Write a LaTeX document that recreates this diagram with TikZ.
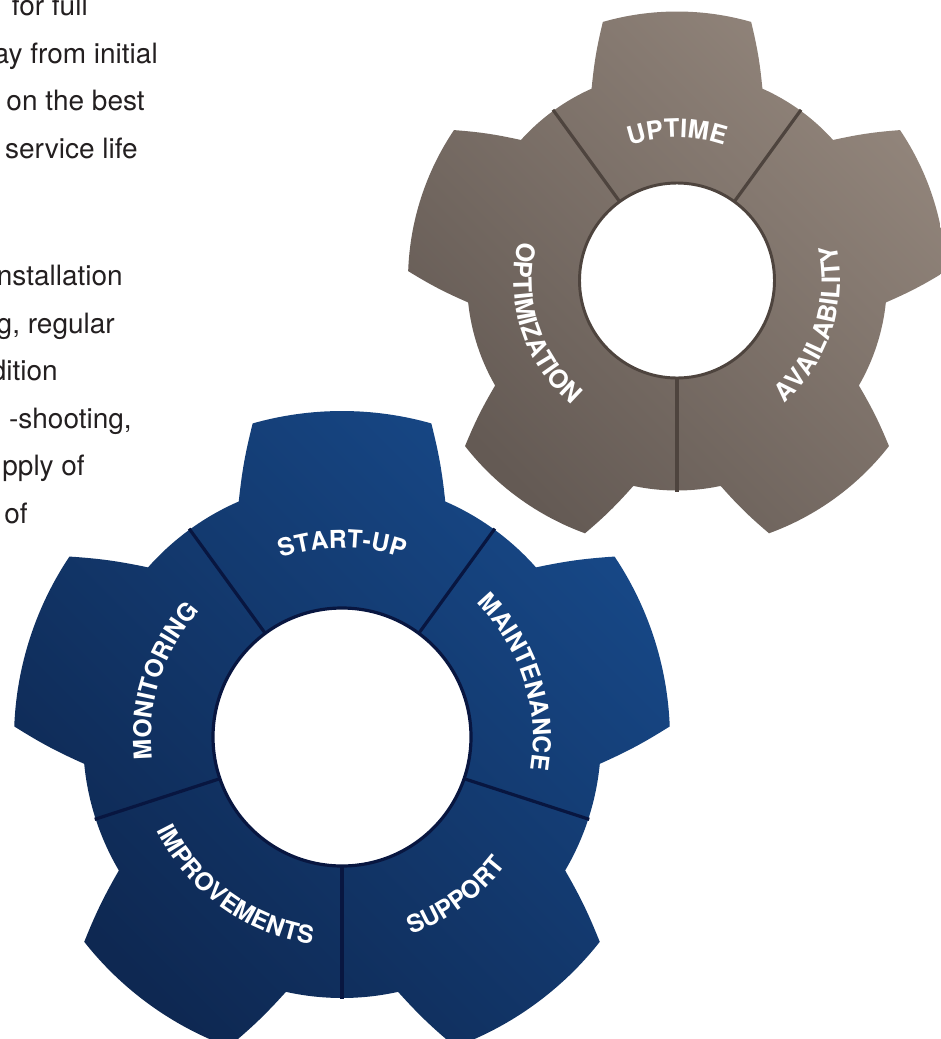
\documentclass[tikz,border=0pt]{standalone}
\usepackage{fontspec}
\setmainfont{TeX Gyre Heros}
\usetikzlibrary{decorations.text}

\definecolor{bluelight}{RGB}{23,72,135}
\definecolor{bluedark}{RGB}{14,40,82}
\definecolor{blueline}{RGB}{8,22,64}
\definecolor{greylight}{RGB}{146,133,123}
\definecolor{greydark}{RGB}{100,90,84}
\definecolor{greyline}{RGB}{78,68,62}
\definecolor{inktext}{RGB}{35,31,32}

% outline of a five-tooth gear: root radius, tip radius, root half angle, tip half angle
\newcommand{\gearshape}[4]{({90+#3}:#1)
  \foreach \a in {90,18,-54,-126,-198}{
    to[bend left=4] ({\a+#4}:#2)
    arc[start angle={\a+#4}, end angle={\a-#4}, radius=#2]
    to[bend left=4] ({\a-#3}:#1)
    arc[start angle={\a-#3}, end angle={\a-72+#3}, radius=#1]
  } -- cycle}

\tikzset{
  bodytext/.style={font=\fontsize{21}{25}\selectfont, text=inktext, inner sep=0pt, anchor=base east},
  gearlabel/.style 2 args={decorate, decoration={text along path, text align=center,
      text={|\bfseries\fontsize{#2}{20}\selectfont\color{white}|#1}}},
  bluediv/.style={draw=blueline, line width=2.4pt},
  greydiv/.style={draw=greyline, line width=2.4pt},
}

\begin{document}
\begin{tikzpicture}[x=0.75pt, y=0.75pt]
  \useasboundingbox (0,0) rectangle (940,-1039);

  % text column, cut at the left edge
  \foreach \x/\y/\txt [count=\i] in {88/15/for full, 158/63/ay from initial, 145/110/on the best,
      138/158/service life, 123/285/nstallation, 115/333/{g, regular}, 58/380/dition,
      132/428/{-shooting,}, 85/475/pply of, 28/523/of}
    \node[bodytext] (line\i) at (\x,-\y) {\txt};

  % grey gear
  \begin{scope}[shift={(677,-280.5)}]
    \coordinate (greyhub) at (0,0);
    \path[top color=greylight, bottom color=greydark, shading angle=-45]
      \gearshape{210}{269}{24}{16};
    \foreach \a in {126,54,-90}
      \draw[greydiv] (\a:97) -- (\a:211);
    \draw[greydiv, line width=2.2pt, fill=white] (greyhub) circle[radius=97.5];
    \path[gearlabel={UPTIME}{19}] (150:143) arc[start angle=150, end angle=30, radius=143];
    \path[gearlabel={AVAILABILITY}{19}] (-100:163) arc[start angle=-100, end angle=64, radius=163];
    \path[gearlabel={OPTIMIZATION}{19}] (116:163) arc[start angle=116, end angle=280, radius=163];
  \end{scope}

  % blue gear
  \begin{scope}[shift={(342,-739)}]
    \coordinate (bluehub) at (0,2);
    \path[top color=bluelight, bottom color=bluedark, shading angle=-45]
      \gearshape{259}{328}{23.5}{15.8};
    \foreach \a in {126,54,-18,-90,-162}
      \draw[bluediv] (\a:128) -- (\a:260);
    \draw[bluediv, fill=white] (bluehub) circle[radius=129];
    \path[gearlabel={START-UP}{18.5}] (150:191) arc[start angle=150, end angle=30, radius=191];
    \path[gearlabel={MAINTENANCE}{18.5}] (78:191) arc[start angle=78, end angle=-42, radius=191];
    \path[gearlabel={MONITORING}{18.5}] (222:191) arc[start angle=222, end angle=102, radius=191];
    \path[gearlabel={SUPPORT}{18.5}] (-114:207) arc[start angle=-114, end angle=6, radius=207];
    \path[gearlabel={IMPROVEMENTS}{18.5}] (-186:207) arc[start angle=-186, end angle=-66, radius=207];
  \end{scope}
\end{tikzpicture}
\end{document}
